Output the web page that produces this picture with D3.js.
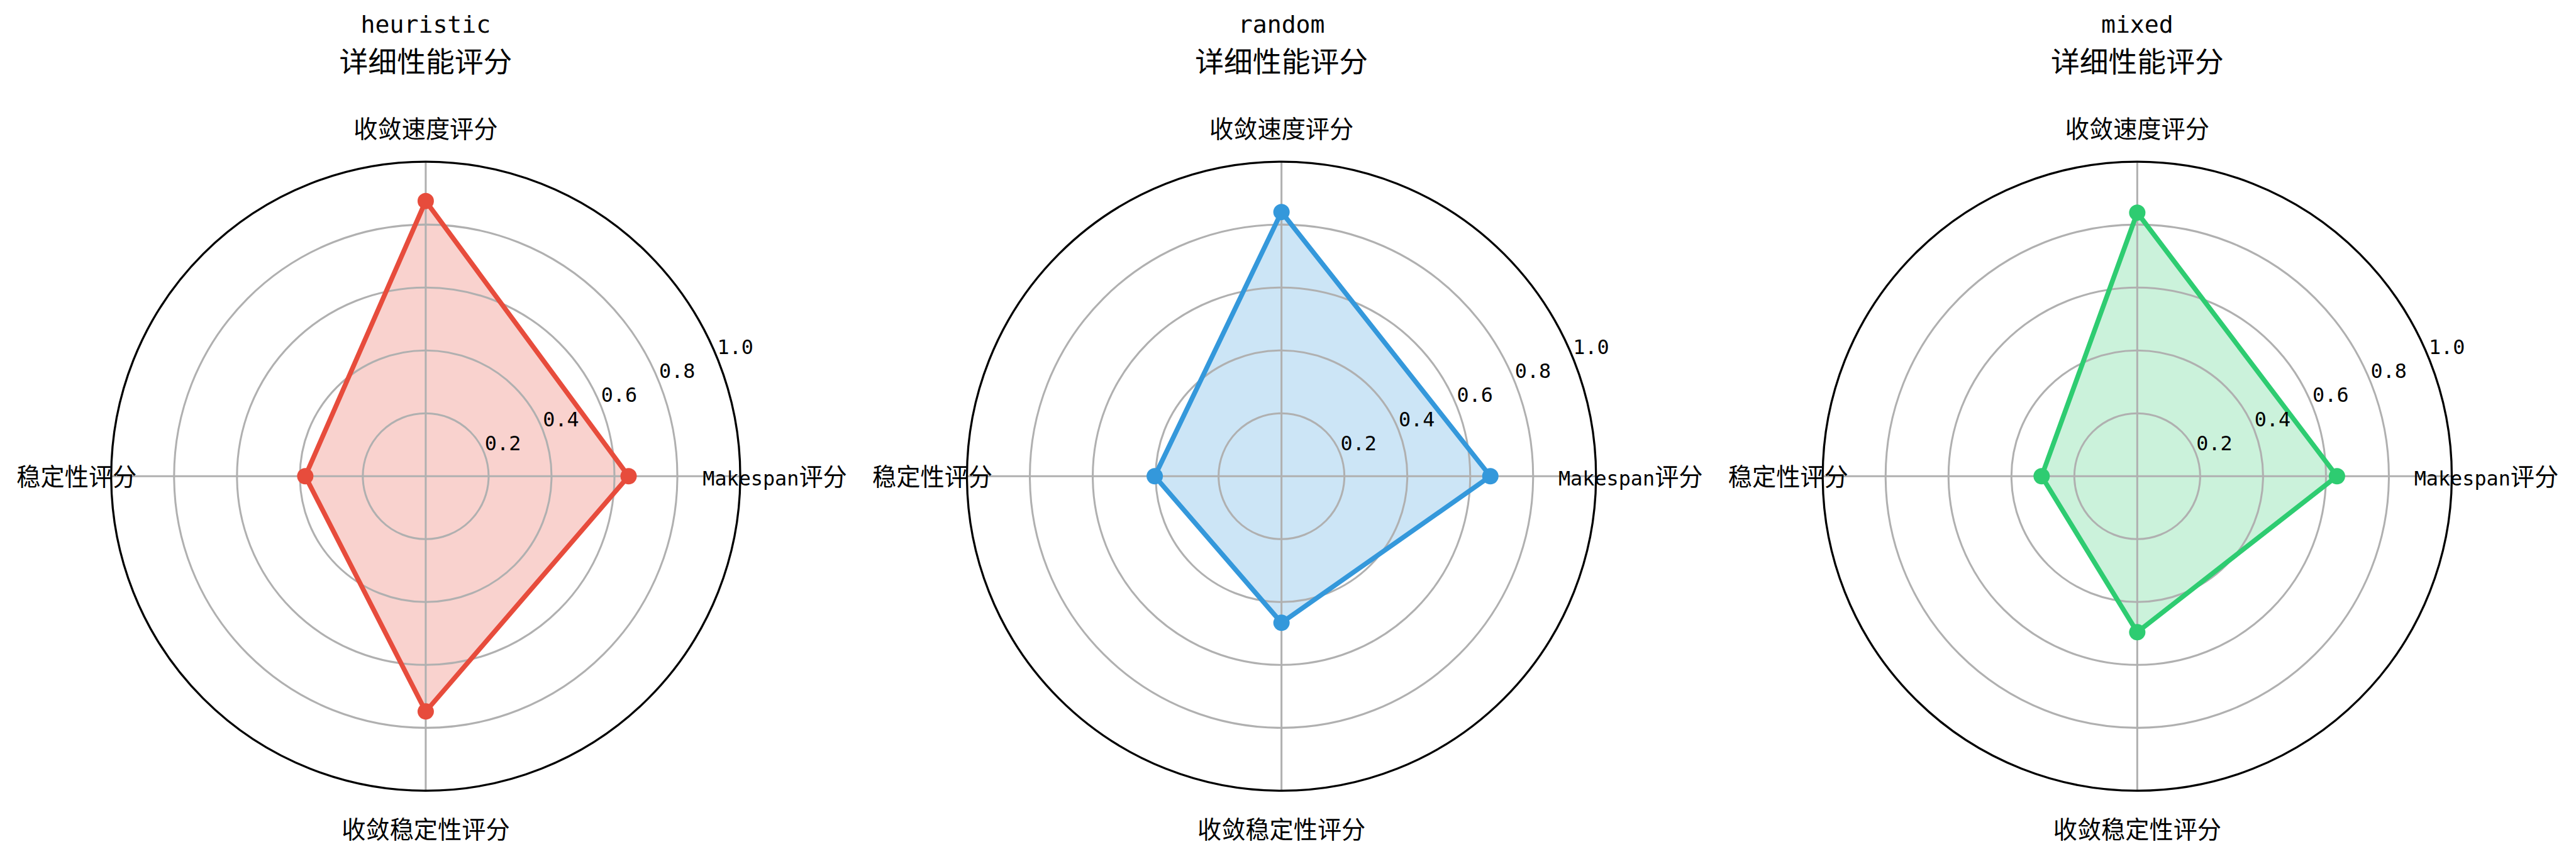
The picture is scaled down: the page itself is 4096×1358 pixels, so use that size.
<!DOCTYPE html>
<html>
<head>
<meta charset="utf-8">
<script src="https://cdn.jsdelivr.net/npm/d3@7"></script>
<style>
html,body{margin:0;padding:0;background:#fff;}
svg{display:block;}
</style>
</head>
<body>
<svg id="chart" width="4096" height="1358"></svg>
<script>
// ---- data ----
const methods = ["heuristic", "random", "mixed"];
const categories = ["Makespan评分", "收敛速度评分", "稳定性评分", "收敛稳定性评分"];
const heuristicValues = [0.645, 0.875, 0.383, 0.748];
const randomValues = [0.664, 0.840, 0.403, 0.466];
const mixedValues = [0.635, 0.838, 0.304, 0.496];
const colors = ["#e74c3c", "#3498db", "#2ecc71"];
const radialTicks = [0.2, 0.4, 0.6, 0.8, 1.0];
const radialTickLabels = ["0.2", "0.4", "0.6", "0.8", "1.0"];
const subtitle = "详细性能评分";

const seriesValues = [heuristicValues, randomValues, mixedValues];

// ---- layout (scaled 0.916 from reference) ----
const S = 0.916;
const centersX = [739 * S, 2224.5 * S, 3710 * S];
const cy = 826.7 * S;
const R = 546 * S;
const titleSize = 50 * S;
const labelSize = 41.7 * S;
const latinRatio = 0.833;

const svg = d3.select("#chart");
const r = d3.scaleLinear().domain([0, 1]).range([0, R]);
const theta = d3.scaleLinear().domain([0, categories.length]).range([0, 2 * Math.PI]);

function appendRuns(parent, str, size) {
  const runs = str.match(/[\x00-\x7F]+|[^\x00-\x7F]+/g) || [];
  runs.forEach(run => {
    const latin = /^[\x00-\x7F]+$/.test(run);
    parent.append("tspan")
      .attr("font-family", latin ? "'DejaVu Sans Mono', monospace" : "'Noto Sans CJK SC', sans-serif")
      .attr("font-size", latin ? size * latinRatio : size)
      .style("white-space", "pre")
      .text(run);
  });
}

function addText(g, str, x, y, size, anchor) {
  const t = g.append("text").attr("x", x).attr("y", y)
    .attr("text-anchor", anchor || "middle").attr("fill", "#000");
  appendRuns(t, str, size);
  return t;
}

methods.forEach((m, i) => {
  const cx = centersX[i];
  const g = svg.append("g").attr("transform", `translate(${cx},${cy})`);
  const vals = seriesValues[i];
  const color = colors[i];

  const pts = vals.map((v, k) => ({ a: Math.PI / 2 - theta(k), r: r(v) }));
  const lineGen = d3.lineRadial().angle(d => d.a).radius(d => d.r).curve(d3.curveLinearClosed);

  // fill
  g.append("path").attr("d", lineGen(pts)).attr("fill", color).attr("fill-opacity", 0.25).attr("stroke", "none");

  // grid circles
  radialTicks.slice(0, -1).forEach(t => {
    g.append("circle").attr("r", r(t)).attr("fill", "none").attr("stroke", "#b0b0b0").attr("stroke-width", 3.05);
  });
  // spokes
  categories.forEach((c, k) => {
    const a = theta(k);
    g.append("line").attr("x1", 0).attr("y1", 0)
      .attr("x2", r(1) * Math.cos(a)).attr("y2", -r(1) * Math.sin(a))
      .attr("stroke", "#b0b0b0").attr("stroke-width", 3.05);
  });
  // outer spine
  g.append("circle").attr("r", r(1)).attr("fill", "none").attr("stroke", "#000").attr("stroke-width", 3.3);

  // data line
  g.append("path").attr("d", lineGen(pts)).attr("fill", "none").attr("stroke", color)
    .attr("stroke-width", 7.6).attr("stroke-linejoin", "round");
  // markers
  g.selectAll("circle.pt").data(vals).enter().append("circle").attr("class", "pt")
    .attr("cx", (v, k) => r(v) * Math.cos(theta(k)))
    .attr("cy", (v, k) => -r(v) * Math.sin(theta(k)))
    .attr("r", 13).attr("fill", color);

  // radial tick labels at 22.5 deg
  const ra = 22.5 * Math.PI / 180;
  radialTicks.forEach((t, k) => {
    const x = r(t) * Math.cos(ra) + 33 * S;
    const y = -r(t) * Math.sin(ra) - 16 * S + 11.6;
    addText(g, radialTickLabels[k], x, y, labelSize, "middle");
  });

  // category labels
  const dists = [606 * S, 604 * S, 606 * S, 613 * S];
  categories.forEach((c, k) => {
    const a = theta(k);
    const d = dists[k];
    const x = d * Math.cos(a);
    const yc = -d * Math.sin(a);
    addText(g, c, x, yc + 0.38 * labelSize, labelSize, "middle");
  });

  // title: two lines
  addText(svg, m, cx, 52, titleSize, "middle");
  addText(svg, subtitle, cx, 115, titleSize, "middle");
});
</script>
</body>
</html>
